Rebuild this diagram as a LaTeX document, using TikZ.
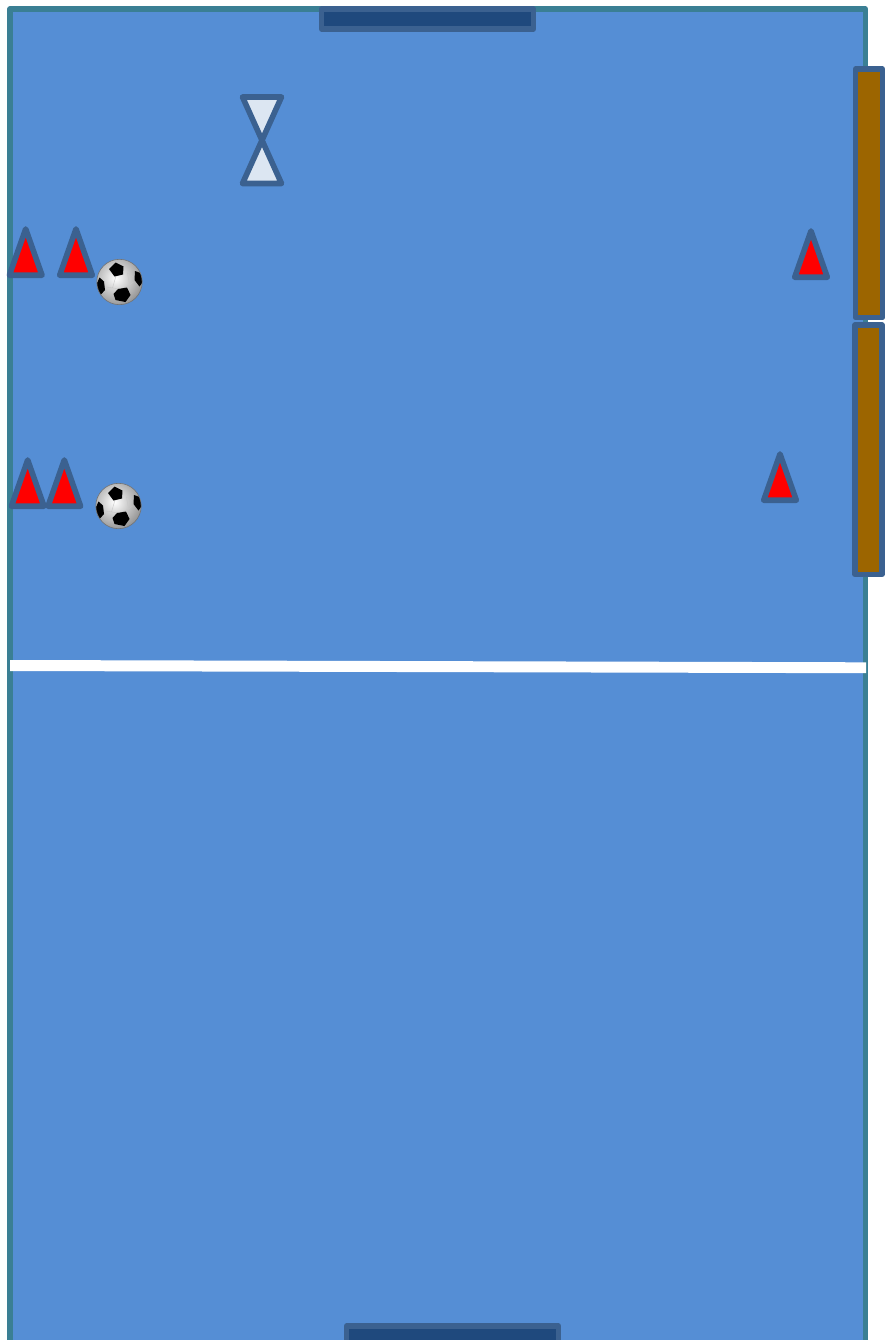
\documentclass[tikz,border=0pt]{standalone}
\usetikzlibrary{shadings}
\definecolor{fieldfill}{HTML}{558ED5}
\definecolor{fieldedge}{HTML}{3A7F94}
\definecolor{edgeblue}{HTML}{3B6190}
\definecolor{goalfill}{HTML}{1F497D}
\definecolor{boardfill}{HTML}{9C6500}
\definecolor{glassfill}{HTML}{DCE6F2}
\tikzset{
  fieldbox/.style={fill=fieldfill,draw=fieldedge,line width=5.4pt,line join=round},
  goalbox/.style={fill=goalfill,draw=edgeblue,line width=5.4pt,line join=round},
  boardbox/.style={fill=boardfill,draw=edgeblue,line width=5.4pt,line join=round},
  glass/.style={fill=glassfill,draw=edgeblue,line width=5.6pt,line join=round},
  conemark/.pic={\draw[fill=red,draw=edgeblue,line width=5.6pt,line join=round] (-16.3,23.2) -- (0,-23) -- (16.3,23.2) -- cycle;},
  soccerball/.pic={
    \begin{scope}
      \clip (0,0) circle (22.7);
      \shade[inner color=white,outer color=black!45] (-4,-4) circle (30);
      \draw[black!22,line width=0.4pt] (-3.5,-6) -- (-7,6) -- (2,7) (-7,6) -- (-13,5) (8,-9) -- (14,-5) (10,3) -- (14,0) (8,-9) -- (10,3) -- (2,7) (-3,-18) -- (-8,-22) (10,20) -- (12,24);
      \fill[black] (-4,-19.5) -- (4,-15.5) -- (3.5,-7.5) -- (-5,-5.5) -- (-10.5,-13) -- cycle;
      \fill[black] (15.5,-11) -- (21,-9) -- (24,-1) -- (20,4.5) -- (15,-2) -- cycle;
      \fill[black] (-1.5,7) -- (7.5,5.5) -- (11,13) -- (6,20) -- (-4,18) -- (-6,12) -- cycle;
      \fill[black] (-20,-4.5) -- (-15.5,-0.5) -- (-14.5,8) -- (-19,13) -- (-25,7) -- cycle;
    \end{scope}
    \draw[black!55,line width=0.6pt] (0,0) circle (22.7);
  }
}
\begin{document}
\begin{tikzpicture}[x=1pt,y=-1pt]
\useasboundingbox (0,0) rectangle (887,1340);
\fill[white] (0,0) rectangle (887,1340);
% field (its bottom edge runs off the picture)
\begin{scope}
\clip (0,0) rectangle (887,1340);
\path[fieldbox] (10,9) rectangle (865.5,1360);
\path[goalbox] (346.7,1326) rectangle (558.5,1360);
\end{scope}
\path[goalbox] (321.7,9) rectangle (533.5,29);
% halfway line
\fill[white] (10,660) -- (866,662.3) -- (866,673.2) -- (10,671) -- cycle;
% hourglass
\path[glass] (242.5,97) -- (281.5,97) -- (242.5,183.5) -- (281.5,183.5) -- cycle;
% side boards
\path[boardbox] (855.5,69) rectangle (882.5,317.5);
\path[boardbox] (855,325) rectangle (882,574.5);
% cones
\path (25.7,252) pic {conemark};
\path (76,252) pic {conemark};
\path (811,254) pic {conemark};
\path (27.7,483) pic {conemark};
\path (64.3,483) pic {conemark};
\path (780,477) pic {conemark};
% balls
\path (119.5,282) pic {soccerball};
\path (118.5,506) pic {soccerball};
\end{tikzpicture}
\end{document}
